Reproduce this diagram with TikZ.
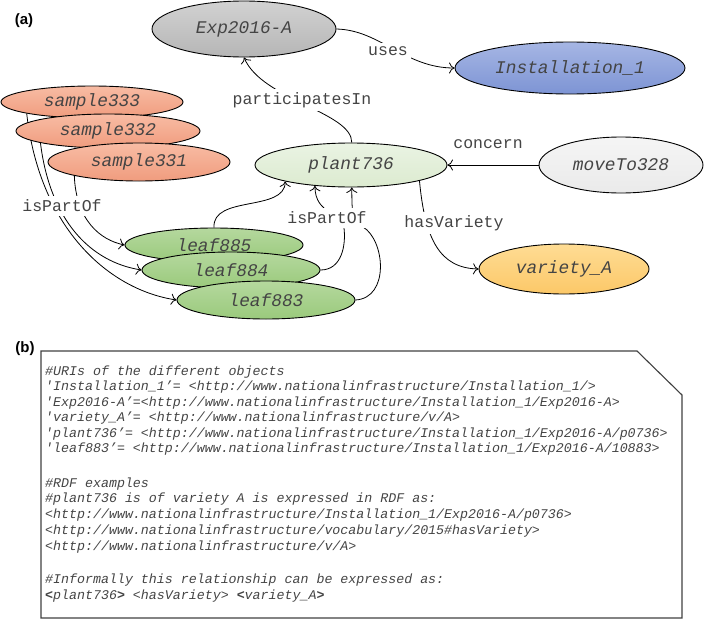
\documentclass[tikz,border=0pt]{standalone}
\usepackage{fontspec}
\setmonofont{Liberation Mono}
\newfontfamily\labfont{Liberation Sans}
\usetikzlibrary{shapes.geometric,arrows.meta}
\pgfdeclarelayer{bg}
\pgfsetlayers{bg,main}
\definecolor{expT}{HTML}{D2D2D2}
\definecolor{expB}{HTML}{B6B6B6}
\definecolor{insT}{HTML}{A6B6E4}
\definecolor{insB}{HTML}{7D94D4}
\definecolor{samT}{HTML}{F8BCA4}
\definecolor{samB}{HTML}{F09C7E}
\definecolor{plaT}{HTML}{EAF3E3}
\definecolor{plaB}{HTML}{DCEBD0}
\definecolor{movT}{HTML}{F5F5F5}
\definecolor{movB}{HTML}{EAEAEA}
\definecolor{leaT}{HTML}{B5D89E}
\definecolor{leaB}{HTML}{9ACA7C}
\definecolor{varT}{HTML}{FEDC94}
\definecolor{varB}{HTML}{FCC868}
\definecolor{txt}{HTML}{444444}
\begin{document}
\begin{tikzpicture}[x=1pt,y=-1pt,
  obj/.style={ellipse, draw=black, line width=0.9pt, inner sep=0pt, text=txt,
    font=\ttfamily\itshape\fontsize{17.8}{20}\selectfont},
  rel/.style={font=\ttfamily\fontsize{16.5}{19}\selectfont, text=txt, inner sep=3.5pt},
  relw/.style={rel, fill=white},
  conn/.style={line width=0.8pt, -{Computer Modern Rightarrow[length=5.5pt,width=11pt]}},
  boxtext/.style={anchor=base west, inner sep=0pt, text=txt,
    font=\ttfamily\itshape\fontsize{13.3}{16}\selectfont},
  plabel/.style={font=\labfont\bfseries\fontsize{15}{18}\selectfont, inner sep=0pt}]
\useasboundingbox (0,0) rectangle (709,621);

% nodes
\node[obj, minimum width=184pt, minimum height=56pt, top color=expT, bottom color=expB] (exp) at (244,29) {Exp2016-A};
\node[obj, minimum width=230pt, minimum height=52pt, top color=insT, bottom color=insB] (inst) at (570,68) {Installation\_1};
\node[obj, minimum width=182pt, minimum height=32pt, top color=samT, bottom color=samB] (s333) at (92,102) {sample333};
\node[obj, minimum width=184pt, minimum height=34pt, top color=samT, bottom color=samB] (s332) at (108,131) {sample332};
\node[obj, minimum width=182pt, minimum height=38pt, top color=samT, bottom color=samB] (s331) at (139,162) {sample331};
\node[obj, minimum width=192pt, minimum height=44pt, top color=plaT, bottom color=plaB] (plant) at (351,165) {plant736};
\node[obj, minimum width=164pt, minimum height=56pt, top color=movT, bottom color=movB] (move) at (621,165) {moveTo328};
\node[obj, minimum width=178pt, minimum height=34pt, top color=leaT, bottom color=leaB] (l885) at (214,245) {leaf885};
\node[obj, minimum width=178pt, minimum height=36pt, top color=leaT, bottom color=leaB] (l884) at (231,270) {leaf884};
\node[obj, minimum width=178pt, minimum height=38pt, top color=leaT, bottom color=leaB] (l883) at (266,300) {leaf883};
\node[obj, minimum width=170pt, minimum height=50pt, top color=varT, bottom color=varB] (var) at (564,269) {variety\_A};

% connectors
\begin{pgfonlayer}{bg}
\draw[conn] (plant.88) .. controls (352,112) and (262,100) .. (exp.south);
\draw[conn] (exp.east) .. controls (380,30) and (405,68) .. (inst.west);
\draw[conn] (move.west) -- (plant.east);
\draw[conn] (plant.347) .. controls (425,240) and (440,268) .. (var.west);
\draw[conn] (s333.190) .. controls (40,230) and (110,290) .. (l883.west);
\draw[conn] (s332.190) .. controls (50,220) and (90,262) .. (l884.west);
\draw[conn] (s331.192) .. controls (76,220) and (100,240) .. (l885.west);
\draw[conn] (l885.north) .. controls (212,195) and (285,212) .. (plant.194);
\draw[conn] (l884.east) .. controls (342,270) and (346,245) .. (344,228) .. controls (343,212) and (315,215) .. (plant.210);
\draw[conn] (l883.east) .. controls (390,298) and (385,240) .. (363,227) .. controls (352,220) and (352,215) .. (plant.272);
\end{pgfonlayer}

% relation labels
\node[relw] (lpart) at (302,100) {participatesIn};
\node[relw] (luses) at (388,51) {uses};
\node[rel] (lconc) at (488,144) {concern};
\node[relw] (lhas) at (454,223) {hasVariety};
\node[relw] (lpo1) at (62,206) {isPartOf};
\node[relw] (lpo2) at (327,218) {isPartOf};

% panel labels
\node[plabel] (pa) at (24,21) {(a)};
\node[plabel] (pb) at (25,349) {(b)};

% box (b)
\draw[line width=1.1pt, draw=black!75] (41,351) -- (637,351) -- (682,395) -- (682,618) -- (41,618) -- cycle;
\node[boxtext] (t1) at (45,375) {\#URIs of the different objects};
\node[boxtext] (t2) at (45,390.5) {'Installation\_1’= <http://www.nationalinfrastructure/Installation\_1/>};
\node[boxtext] (t3) at (45,406) {'Exp2016-A’=<http://www.nationalinfrastructure/Installation\_1/Exp2016-A>};
\node[boxtext] (t4) at (45,421.5) {'variety\_A’= <http://www.nationalinfrastructure/v/A>};
\node[boxtext] (t5) at (45,437) {'plant736’= <http://www.nationalinfrastructure/Installation\_1/Exp2016-A/p0736>};
\node[boxtext] (t6) at (45,452.5) {'leaf883’= <http://www.nationalinfrastructure/Installation\_1/Exp2016-A/10883>};
\node[boxtext] (t7) at (45,487) {\#RDF examples};
\node[boxtext] (t8) at (45,502.5) {\#plant736 is of variety A is expressed in RDF as:};
\node[boxtext] (t9) at (45,518.5) {<http://www.nationalinfrastructure/Installation\_1/Exp2016-A/p0736>};
\node[boxtext] (t10) at (45,534.5) {<http://www.nationalinfrastructure/vocabulary/2015\#hasVariety>};
\node[boxtext] (t11) at (45,550.5) {<http://www.nationalinfrastructure/v/A>};
\node[boxtext] (t12) at (45,583) {\#Informally this relationship can be expressed as:};
\node[boxtext] (t13) at (45,599) {\textbf{<}plant736\textbf{>} <hasVariety> \textbf{<}variety\_A\textbf{>}};
\end{tikzpicture}
\end{document}
